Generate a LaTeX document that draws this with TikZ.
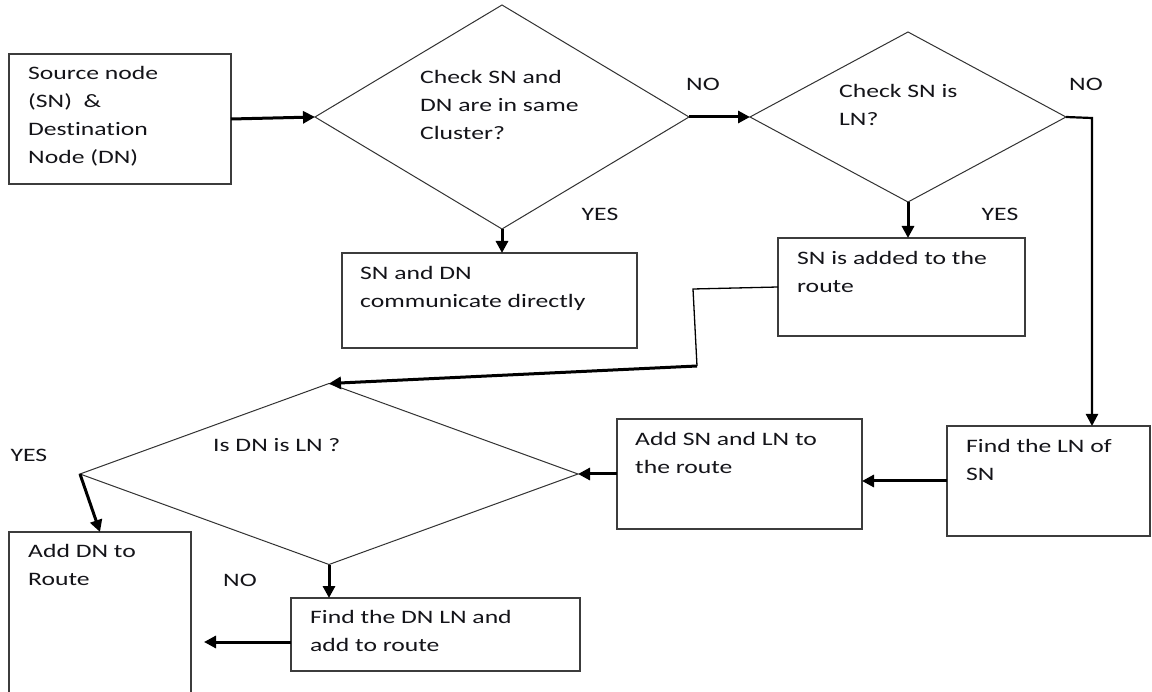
\documentclass[tikz,border=0pt]{standalone}
\usepackage{fontspec}
\setmainfont{Carlito}[FakeStretch=1.35,Ligatures=NoCommon,RawFeature=-liga]
\usetikzlibrary{arrows.meta,shapes.geometric}
\definecolor{boxgray}{RGB}{60,60,60}
\definecolor{diagray}{RGB}{50,50,50}
\definecolor{textc}{RGB}{20,20,25}
\begin{document}
\begin{tikzpicture}[x=1pt,y=-1pt,
  box/.style={draw=boxgray, line width=1.5pt, rectangle, inner sep=0pt, outer sep=0pt, anchor=north west},
  dia/.style={draw=diagray, line width=1pt, diamond, inner sep=0pt, outer sep=0pt},
  txt/.style={inner sep=0pt, anchor=north west, align=left, font=\fontsize{19}{28}\selectfont, text=textc},
  lbl/.style={inner sep=0pt, font=\fontsize{19}{28}\selectfont, text=textc},
  flow/.style={draw=black, line width=3pt, -{Triangle[length=12pt,width=12pt]}},
  plain/.style={draw=black, line width=1.3pt},
  route/.style={draw=black, line width=2.2pt, -{Triangle[length=12pt,width=12pt]}}
]
\clip (0,0) rectangle (1152,692);
\fill[white] (0,0) rectangle (1152,692);

% boxes
\node[box, minimum width=222pt, minimum height=130pt] (src) at (9,54) {};
\node[box, minimum width=295pt, minimum height=95pt] (direct) at (342,253) {};
\node[box, minimum width=247pt, minimum height=98pt] (added) at (778,238) {};
\node[box, minimum width=203pt, minimum height=110pt] (findsn) at (947,426) {};
\node[box, minimum width=245pt, minimum height=110pt] (addsnln) at (617,419) {};
\node[box, minimum width=289pt, minimum height=73pt] (finddn) at (291,598) {};
\node[box, minimum width=182pt, minimum height=170pt] (adddn) at (9,532) {};

% diamonds
\node[dia, minimum width=374pt, minimum height=224pt] (d1) at (502,117) {};
\node[dia, minimum width=316pt, minimum height=170pt] (d2) at (908,117) {};
\node[dia, minimum width=498pt, minimum height=181pt] (d3) at (329,474) {};

% texts in boxes
\node[txt] (tsrc) at ([shift={(19,5.6)}]src.north west) {\strut Source node\\(SN)\ \ \&\\Destination\\Node (DN)};
\node[txt] (tdirect) at ([shift={(18,6.4)}]direct.north west) {\strut SN and DN\\communicate directly};
\node[txt] (tadded) at ([shift={(19,6.4)}]added.north west) {\strut SN is added to the\\route};
\node[txt] (tfindsn) at ([shift={(19,6.4)}]findsn.north west) {\strut Find the LN of\\SN};
\node[txt] (taddsnln) at ([shift={(18,6.4)}]addsnln.north west) {\strut Add SN and LN to\\the route};
\node[txt] (tfinddn) at ([shift={(19,5.4)}]finddn.north west) {\strut Find the DN LN and\\add to route};
\node[txt] (tadddn) at ([shift={(19,5.4)}]adddn.north west) {\strut Add DN to\\Route};

% texts in diamonds
\node[txt] (td1) at (420,63.4) {\strut Check SN and\\DN are in same\\Cluster?};
\node[txt] (td2) at (839,77.4) {\strut Check SN is\\LN?};
\node[txt] (td3) at (213,431.4) {\strut Is DN is LN ?};

% yes/no labels
\node[lbl] (no1) at (703,84) {NO};
\node[lbl] (yes1) at (600,214) {YES};
\node[lbl] (no2) at (1086,84) {NO};
\node[lbl] (yes2) at (1000,214) {YES};
\node[lbl] (yes3) at (29,455) {YES};
\node[lbl] (no3) at (240,580) {NO};

% connectors
\draw[flow] (src.east) -- (d1.west);
\draw[flow] (d1.east) -- (d2.west);
\draw[flow] (d1.south) -- (d1.south |- direct.north);
\draw[flow] (d2.south) -- (d2.south |- added.north);
\coordinate (c3) at (1092,118);
\draw[route] (d2.east) -- (c3) -- (c3 |- findsn.north);
\draw[flow] (findsn.west) -- (findsn.west -| addsnln.east);
\draw[flow] (addsnln.west) -- (d3.east);
\coordinate (c1) at (693,289);
\coordinate (c2) at (697,366);
\draw[plain] (added.west) -- (c1) -- (c2);
\draw[flow] (c2) -- (d3.north);
\draw[flow] (d3.west) -- (adddn.north);
\draw[flow] (d3.south) -- (d3.south |- finddn.north);
\coordinate (e1) at (204,642);
\draw[flow] (finddn.west |- e1) -- (e1);
\end{tikzpicture}
\end{document}
